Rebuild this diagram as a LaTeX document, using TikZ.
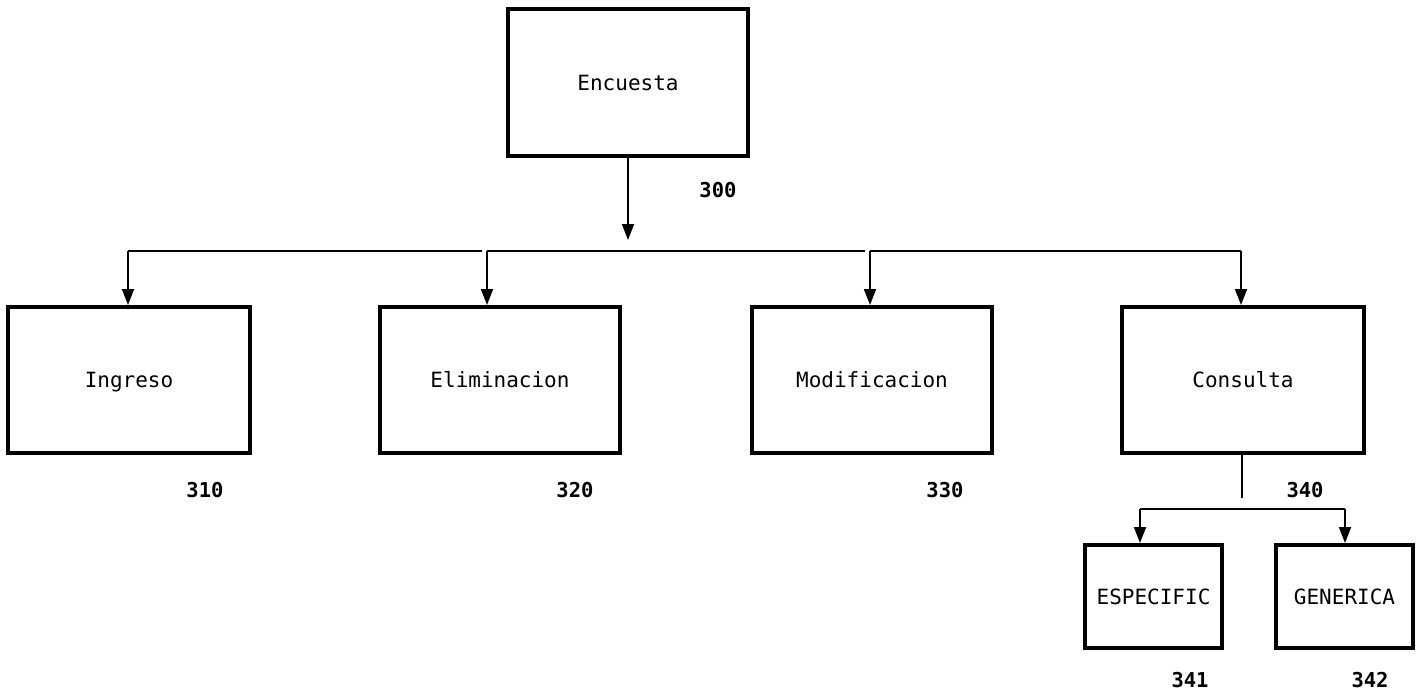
\documentclass[tikz,border=0pt]{standalone}
\usepackage{fontspec}
\setmonofont{DejaVu Sans Mono}
\usetikzlibrary{arrows.meta}
\begin{document}
\begin{tikzpicture}[x=1pt,y=-1pt,
  box/.style={draw, line width=4pt, inner sep=0pt, text height=15pt, text depth=0pt, font=\ttfamily\fontsize{21}{24}\selectfont},
  bigbox/.style={box, minimum width=240pt, minimum height=146pt},
  smallbox/.style={box, minimum width=137pt, minimum height=103pt},
  conn/.style={line width=1.8pt},
  arr/.style={conn, -{Triangle[length=16pt,width=12pt]}},
  num/.style={font=\ttfamily\bfseries\fontsize{20.5}{23}\selectfont, inner sep=0pt}]
\useasboundingbox (0,0) rectangle (1418,693);
% boxes
\node[bigbox] (enc) at (628,82.5) {Encuesta};
\node[bigbox, minimum width=242pt] (ing) at (129,380) {Ingreso};
\node[bigbox] (eli) at (500,380) {Eliminacion};
\node[bigbox] (mod) at (872,380) {Modificacion};
\node[bigbox, minimum width=242pt] (con) at (1243,380) {Consulta};
\node[smallbox] (esp) at (1153.5,596.5) {ESPECIFIC};
\node[smallbox] (gen) at (1344.5,596.5) {GENERICA};
% numbers
\node[num] (n300) at (718,190) {300};
\node[num] (n310) at (205,490) {310};
\node[num] (n320) at (575,490) {320};
\node[num] (n330) at (945,490) {330};
\node[num] (n340) at (1305,490) {340};
\node[num] (n341) at (1190,680) {341};
\node[num] (n342) at (1370,680) {342};
% top connector
\coordinate (t1) at (628,240);
\draw[arr] (enc.south) -- (t1);
\coordinate (b1) at (128,251);
\coordinate (b1e) at (482,251);
\coordinate (b2) at (487,251);
\coordinate (b2e) at (865,251);
\coordinate (b3) at (870,251);
\coordinate (b4) at (1241,251);
\draw[conn] (b1) -- (b1e);
\draw[conn] (b2) -- (b2e);
\draw[conn] (b3) -- (b4);
\draw[arr] (b1) -- (b1 |- ing.north);
\draw[arr] (b2) -- (b2 |- eli.north);
\draw[arr] (b3) -- (b3 |- mod.north);
\draw[arr] (b4) -- (b4 |- con.north);
% consulta sub connector
\coordinate (c0) at (1242,498);
\draw[conn] (con.south -| c0) -- (c0);
\coordinate (c1) at (1140,509);
\coordinate (c2) at (1345,509);
\draw[conn] (c1) -- (c2);
\draw[arr] (c1) -- (c1 |- esp.north);
\draw[arr] (c2) -- (c2 |- gen.north);
\end{tikzpicture}
\end{document}
